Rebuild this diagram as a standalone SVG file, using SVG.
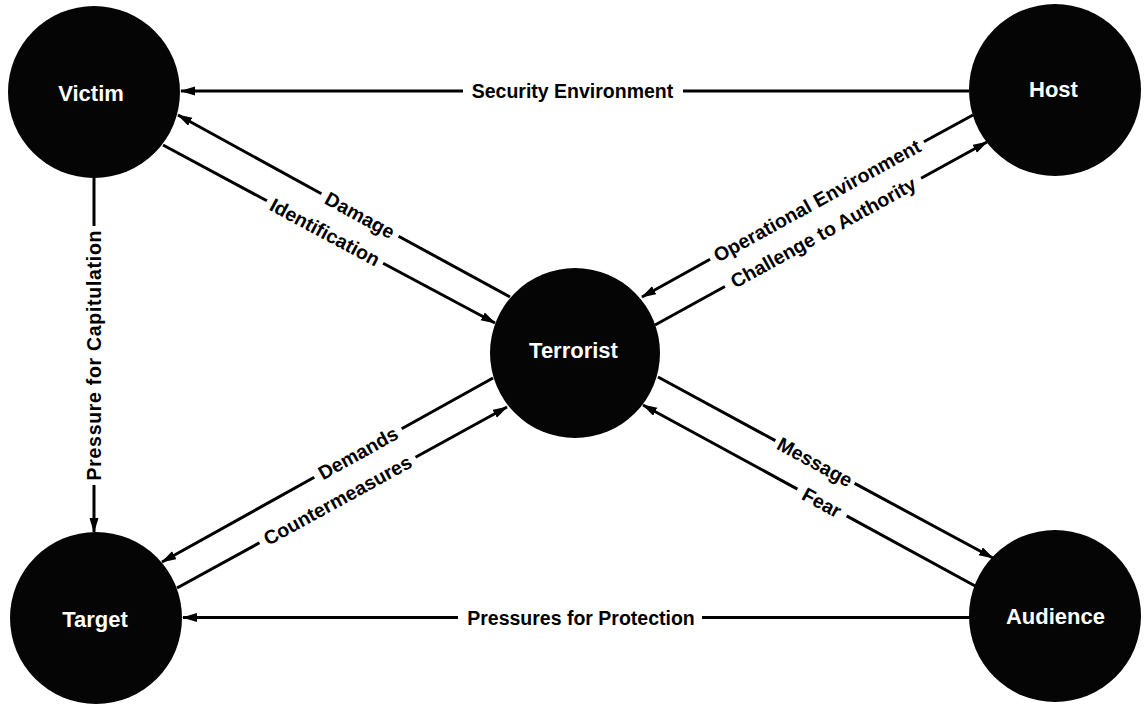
<svg xmlns="http://www.w3.org/2000/svg" width="1145" height="705" viewBox="0 0 1145 705">
<style>
.node{fill:#050505}
.nlabel{font-family:"Liberation Sans",Arial,sans-serif;font-weight:bold;font-size:22px;fill:#fff;text-anchor:middle}
.edge{stroke:#000;stroke-width:3;fill:none}
.elabel{font-family:"Liberation Sans",Arial,sans-serif;font-weight:bold;font-size:19.5px;fill:#000;text-anchor:middle}
</style>
<defs>
<marker id="arr" markerUnits="userSpaceOnUse" markerWidth="16" markerHeight="10" refX="14" refY="4.5" orient="auto">
<path d="M0,0 L15,4.5 L0,9 z" fill="#000"/>
</marker>
</defs>
<rect width="1145" height="705" fill="#fff"/>
<g id="connectors">
<!-- Security Environment -->
<path class="edge" d="M969,91 L683,91"/>
<path class="edge" d="M463,91 L181,91" marker-end="url(#arr)"/>
<text class="elabel" x="572.5" y="98">Security Environment</text>
<!-- Pressures for Protection -->
<path class="edge" d="M970,617.5 L702,617.5"/>
<path class="edge" d="M458,617.5 L183,617.5" marker-end="url(#arr)"/>
<text class="elabel" x="581" y="624.5">Pressures for Protection</text>
<!-- Pressure for Capitulation -->
<path class="edge" d="M94,177 L94,226"/>
<path class="edge" d="M94,485 L94,532" marker-end="url(#arr)"/>
<text class="elabel" transform="translate(94,355.5) rotate(-90)" y="7" textLength="250">Pressure for Capitulation</text>
<!-- Damage -->
<path class="edge" d="M510,297 L398.6,236.2"/>
<path class="edge" d="M321.4,193.8 L178,115" marker-end="url(#arr)"/>
<text class="elabel" transform="translate(360,215) rotate(28.73)" y="7">Damage</text>
<!-- Identification -->
<path class="edge" d="M163,145 L266.9,200.8"/>
<path class="edge" d="M383.1,263.2 L495,323" marker-end="url(#arr)"/>
<text class="elabel" transform="translate(325,232) rotate(28.2)" y="7">Identification</text>
<!-- Operational Environment -->
<path class="edge" d="M973,115 L923.9,141.7"/>
<path class="edge" d="M710.1,259.3 L642,297" marker-end="url(#arr)"/>
<text class="elabel" transform="translate(817,200.5) rotate(-28.8)" y="7">Operational Environment</text>
<!-- Challenge to Authority -->
<path class="edge" d="M655,325 L724.9,286.5"/>
<path class="edge" d="M921.1,178.3 L987,142" marker-end="url(#arr)"/>
<text class="elabel" transform="translate(823,232.4) rotate(-28.86)" y="7">Challenge to Authority</text>
<!-- Demands -->
<path class="edge" d="M493,378 L401.7,428.7"/>
<path class="edge" d="M314.3,477.3 L162,562" marker-end="url(#arr)"/>
<text class="elabel" transform="translate(358,453) rotate(-29.07)" y="7">Demands</text>
<!-- Countermeasures -->
<path class="edge" d="M177,588 L259.5,542.8"/>
<path class="edge" d="M415.5,457.2 L507,407" marker-end="url(#arr)"/>
<text class="elabel" transform="translate(337.5,500) rotate(-28.75)" y="7">Countermeasures</text>
<!-- Message -->
<path class="edge" d="M658,377 L775.4,440.6"/>
<path class="edge" d="M854.6,483.4 L993,558" marker-end="url(#arr)"/>
<text class="elabel" transform="translate(815,462) rotate(28.38)" y="7">Message</text>
<!-- Fear -->
<path class="edge" d="M977,587 L846.6,515.9"/>
<path class="edge" d="M797.4,489.1 L643,405" marker-end="url(#arr)"/>
<text class="elabel" transform="translate(822,502.5) rotate(28.59)" y="7">Fear</text>
</g>
<g id="victim">
<circle class="node" cx="94" cy="92" r="86"/>
<text class="nlabel" x="91" y="101">Victim</text>
</g>
<g id="host">
<circle class="node" cx="1055" cy="90" r="86"/>
<text class="nlabel" x="1053.5" y="97">Host</text>
</g>
<g id="terrorist">
<circle class="node" cx="575" cy="353" r="85"/>
<text class="nlabel" x="573.5" y="358">Terrorist</text>
</g>
<g id="target">
<circle class="node" cx="96" cy="618" r="86"/>
<text class="nlabel" x="95" y="627">Target</text>
</g>
<g id="audience">
<circle class="node" cx="1055" cy="616" r="86"/>
<text class="nlabel" x="1055.5" y="624">Audience</text>
</g>
</svg>
